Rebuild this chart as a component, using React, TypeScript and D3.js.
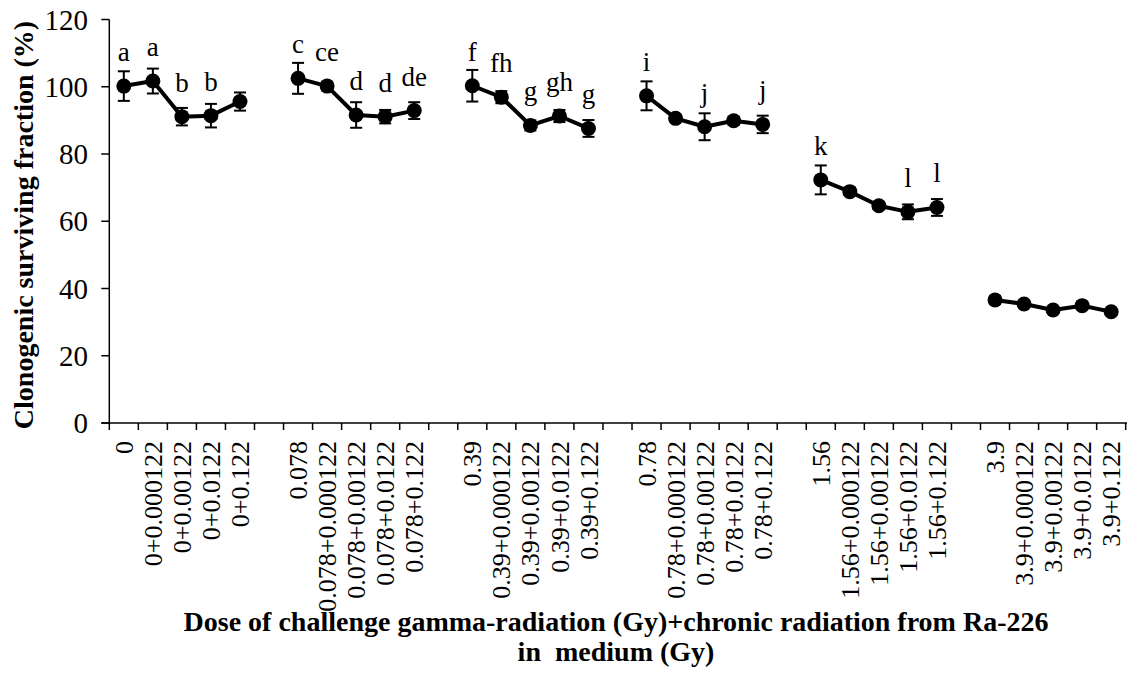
import React from "react";
import * as d3 from "d3";

const categories: string[] = [
  "0", "0+0.000122", "0+0.00122", "0+0.0122", "0+0.122", "",
  "0.078", "0.078+0.000122", "0.078+0.00122", "0.078+0.0122", "0.078+0.122", "",
  "0.39", "0.39+0.000122", "0.39+0.00122", "0.39+0.0122", "0.39+0.122", "",
  "0.78", "0.78+0.000122", "0.78+0.00122", "0.78+0.0122", "0.78+0.122", "",
  "1.56", "1.56+0.000122", "1.56+0.00122", "1.56+0.0122", "1.56+0.122", "",
  "3.9", "3.9+0.000122", "3.9+0.00122", "3.9+0.0122", "3.9+0.122",
];

const survival: (number | null)[] = [
  100.2, 101.7, 91.1, 91.4, 95.6, null,
  102.5, 100.2, 91.6, 91.1, 92.9, null,
  100.3, 96.9, 88.5, 91.3, 87.6, null,
  97.3, 90.6, 88.1, 89.9, 88.8, null,
  72.3, 68.8, 64.6, 62.8, 64.1, null,
  36.6, 35.4, 33.6, 34.9, 33.1,
];

const errors: (number | null)[] = [
  4.4, 3.7, 2.6, 3.5, 2.7, null,
  4.6, 1.3, 3.8, 2.0, 2.5, null,
  4.7, 1.8, 1.5, 1.8, 2.5, null,
  4.3, 1.0, 4.0, 1.2, 2.6, null,
  4.3, 1.0, 1.0, 2.2, 2.5, null,
  1.2, 1.0, 0.8, 1.0, 0.8,
];

const letters: string[] = [
  "a", "a", "b", "b", "", "",
  "c", "ce", "d", "d", "de", "",
  "f", "fh", "g", "gh", "g", "",
  "i", "", "j", "", "j", "",
  "k", "", "", "l", "l", "",
  "", "", "", "", "",
];

const yTicks = [0, 20, 40, 60, 80, 100, 120];

const W = 1127;
const H = 681;
const left = 109.3;
const right = 1125.7;
const top = 19.5;
const bottom = 423;
const fontStyle = { fontFamily: '"Liberation Serif", "Times New Roman", Times, serif' };

export default function App() {
  const idx = categories.map((_, i) => i);
  const x = d3.scaleBand<number>().domain(idx).range([left, right]).padding(0);
  const y = d3.scaleLinear().domain([0, 120]).range([bottom, top]);
  const cx = (i: number) => (x(i) as number) + x.bandwidth() / 2;

  const line = d3
    .line<number>()
    .defined((i) => survival[i] != null)
    .x((i) => cx(i))
    .y((i) => y(survival[i] as number));

  const boundaries = d3.range(categories.length + 1).map((i) => left + i * x.bandwidth());

  return (
    <svg
      width={W}
      height={H}
      style={{ position: "absolute", left: 0, top: 0, background: "#fff", ...fontStyle }}
    >
      <rect width={W} height={H} fill="#fff" />
      {/* Y axis */}
      <line x1={left} x2={left} y1={top} y2={bottom} stroke="#000" strokeWidth={1.5} />
      {yTicks.map((t) => (
        <g key={t}>
          <line x1={left - 8} x2={left} y1={y(t)} y2={y(t)} stroke="#000" strokeWidth={1.5} />
          <text x={88} y={y(t)} dy="0.35em" textAnchor="end" fontSize={29} style={fontStyle}>
            {t}
          </text>
        </g>
      ))}
      {/* X axis */}
      <line x1={left - 8} x2={right + 2} y1={bottom} y2={bottom} stroke="#000" strokeWidth={1.5} />
      {boundaries.map((b, i) => (
        <line key={i} x1={b} x2={b} y1={bottom} y2={bottom + 7} stroke="#000" strokeWidth={1.5} />
      ))}
      {categories.map((c, i) =>
        c ? (
          <text
            key={i}
            transform={`translate(${cx(i)},${bottom + 18}) rotate(-90)`}
            dy="0.35em"
            textAnchor="end"
            fontSize={26}
            style={fontStyle}
          >
            {c}
          </text>
        ) : null
      )}
      {/* Line */}
      <path d={line(idx) || ""} fill="none" stroke="#000" strokeWidth={4} strokeLinejoin="round" />
      {/* Error bars */}
      {idx.map((i) => {
        const v = survival[i];
        const e = errors[i];
        if (v == null || e == null) return null;
        const x0 = cx(i);
        return (
          <g key={i} stroke="#000" strokeWidth={2}>
            <line x1={x0} x2={x0} y1={y(v + e)} y2={y(v - e)} />
            <line x1={x0 - 6} x2={x0 + 6} y1={y(v + e)} y2={y(v + e)} />
            <line x1={x0 - 6} x2={x0 + 6} y1={y(v - e)} y2={y(v - e)} />
          </g>
        );
      })}
      {/* Markers */}
      {idx.map((i) =>
        survival[i] != null ? (
          <circle key={i} cx={cx(i)} cy={y(survival[i] as number)} r={7.5} fill="#000" />
        ) : null
      )}
      {/* Letters */}
      {idx.map((i) =>
        letters[i] && survival[i] != null ? (
          <text key={i} x={cx(i)} y={y(survival[i] as number) - 25} textAnchor="middle" fontSize={27} style={fontStyle}>
            {letters[i]}
          </text>
        ) : null
      )}
      {/* Axis titles */}
      <text
        transform={`translate(33,225) rotate(-90)`}
        textAnchor="middle"
        fontSize={28}
        fontWeight="bold"
        style={fontStyle}
      >
        Clonogenic surviving fraction (%)
      </text>
      <text x={616} y={631} textAnchor="middle" fontSize={28} fontWeight="bold" style={fontStyle}>
        Dose of challenge gamma-radiation (Gy)+chronic radiation from Ra-226
      </text>
      <text
        x={616}
        y={661}
        textAnchor="middle"
        fontSize={28}
        fontWeight="bold"
        style={{ ...fontStyle, whiteSpace: "pre" }}
      >
        {"in  medium (Gy)"}
      </text>
    </svg>
  );
}
